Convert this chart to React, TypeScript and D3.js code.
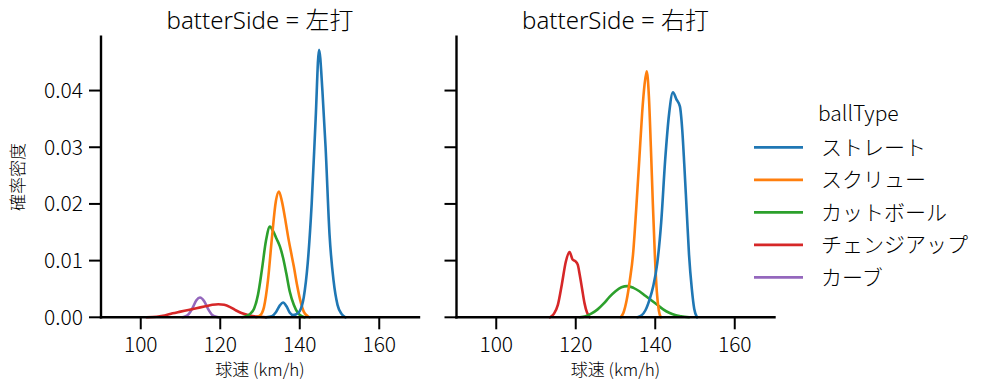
import React from "react";
import * as d3 from "d3";

const panelTitles = ["batterSide = 左打", "batterSide = 右打"];
const ballTypes = ["ストレート", "スクリュー", "カットボール", "チェンジアップ", "カーブ"];
const colors = ["#1f77b4", "#ff7f0e", "#2ca02c", "#d62728", "#9467bd"];
const xTicks = [100, 120, 140, 160];
const yTicks = [0, 0.01, 0.02, 0.03, 0.04];

type Pt = [number, number];

// 左打
const leftStraight: Pt[] = [[131.5,0],[133,0.0002],[134,0.0009],[135,0.0021],[135.8,0.0026],[136.7,0.0019],[137.5,0.0008],[138.3,0.0004],[139,0.0005],[140,0.0011],[141,0.0035],[142,0.0095],[143,0.020],[144,0.035],[144.85,0.0472],[145.7,0.040],[146.5,0.030],[147.5,0.0145],[148.5,0.0065],[149.5,0.0022],[150.5,0.0006],[151.5,0]];
const leftScrew: Pt[] = [[129,0],[130,0.0003],[131,0.0018],[132,0.0065],[133,0.014],[134,0.0205],[134.75,0.0222],[135.5,0.0205],[136.3,0.0175],[137,0.0145],[137.8,0.0115],[138.5,0.009],[139.3,0.0058],[140.2,0.0028],[141,0.001],[142,0.0002],[142.5,0]];
const leftCutter: Pt[] = [[125.5,0],[126.5,0.0002],[127.5,0.0006],[128.5,0.0015],[129.5,0.004],[130.5,0.0085],[131.5,0.0135],[132.5,0.016],[133.3,0.0152],[134.2,0.0138],[135,0.0125],[135.8,0.0105],[136.6,0.0078],[137.5,0.0045],[138.5,0.0022],[139.5,0.0008],[140.5,0.0002],[141.2,0]];
const leftChangeup: Pt[] = [[101.5,0],[104,0.0001],[106,0.0003],[108,0.0007],[110,0.001],[112,0.0013],[114,0.0016],[116,0.0019],[118,0.0022],[119.5,0.0023],[121,0.0022],[122.5,0.0018],[124,0.0012],[125.5,0.0007],[127,0.0004],[128.5,0.0002],[130,0.0001],[131.5,0]];
const leftCurve: Pt[] = [[110.5,0],[111,0.0001],[112,0.0005],[113,0.0016],[114,0.003],[114.9,0.0035],[116,0.0028],[117,0.0014],[118,0.0004],[119,0.0001],[119.5,0]];

// 右打
const rightStraight: Pt[] = [[135.5,0],[136.5,0.0003],[137.5,0.0012],[138.5,0.003],[139.5,0.0055],[140.5,0.0095],[141.5,0.0168],[142.5,0.0278],[143.5,0.036],[144.45,0.0397],[145.3,0.0385],[146.2,0.0372],[146.8,0.033],[147.3,0.027],[147.9,0.019],[148.5,0.011],[149.2,0.005],[149.8,0.0015],[150.5,0]];
const rightScrew: Pt[] = [[131.3,0],[132,0.0008],[132.8,0.003],[133.6,0.0065],[134.4,0.011],[135.2,0.019],[136,0.028],[136.7,0.036],[137.3,0.041],[137.85,0.0434],[138.4,0.039],[138.9,0.03],[139.4,0.02],[139.9,0.011],[140.4,0.0045],[140.9,0.0012],[141.4,0]];
const rightCutter: Pt[] = [[121,0],[122.5,0.0002],[124,0.0007],[125.5,0.0014],[127,0.0024],[128.5,0.0036],[130,0.0046],[131.5,0.0053],[133,0.0055],[134.5,0.0052],[136,0.0046],[137.5,0.0038],[139,0.003],[140.5,0.0022],[142,0.0014],[143.5,0.0008],[145,0.0004],[146.5,0.0002],[148.5,0]];
const rightChangeup: Pt[] = [[113.5,0],[114.5,0.0006],[115.5,0.0022],[116.5,0.0058],[117.5,0.0098],[118.45,0.0115],[119.2,0.0102],[119.9,0.0099],[120.5,0.0093],[121,0.0075],[121.6,0.005],[122.2,0.0025],[122.8,0.0009],[123.5,0]];

const panels: (Pt[] | null)[][] = [
  [leftStraight, leftScrew, leftCutter, leftChangeup, leftCurve],
  [rightStraight, rightScrew, rightCutter, rightChangeup, null],
];

const FONT = "'Noto Sans CJK JP', 'Noto Sans', sans-serif";
const TITLE_FONT = "'Noto Sans', 'Noto Sans CJK JP', sans-serif";

export default function App() {
  const W = 999, H = 391;
  const top = 36.7, bottom = 317.3;
  const panelX = [[101, 419], [456.5, 774.5]];
  const y = d3.scaleLinear().domain([0, 0.0495]).range([bottom, top]);
  const tickLen = 12;

  return (
    <svg width={W} height={H} style={{ position: "absolute", left: 0, top: 0, background: "#fff" }} fontFamily={FONT} fontWeight={300}>
      {panelX.map(([a, b], pi) => {
        const x = d3.scaleLinear().domain([90, 170]).range([a, b]);
        const line = d3.line<Pt>().x(d => x(d[0])).y(d => y(d[1])).curve(d3.curveMonotoneX);
        return (
          <g key={pi}>
            {panels[pi].map((s, i) => ({ s, i })).reverse().map(({ s, i }) =>
              s ? <path key={i} d={line(s) || ""} fill="none" stroke={colors[i]} strokeWidth={2.6} strokeLinejoin="round" strokeLinecap="round" /> : null
            )}
            <line x1={a} x2={b} y1={bottom} y2={bottom} stroke="#000" strokeWidth={2.4} strokeLinecap="square" />
            <line x1={a} x2={a} y1={top} y2={bottom} stroke="#000" strokeWidth={2.4} strokeLinecap="square" />
            {xTicks.map(t => (
              <g key={t}>
                <line x1={x(t)} x2={x(t)} y1={bottom} y2={bottom + tickLen} stroke="#000" strokeWidth={2} />
                <text x={x(t)} y={352} textAnchor="middle" fontSize={21} fill="#000">{t}</text>
              </g>
            ))}
            {yTicks.map(t => (
              <g key={t}>
                <line x1={a - tickLen} x2={a} y1={y(t)} y2={y(t)} stroke="#000" strokeWidth={2} />
                {pi === 0 && (
                  <text x={a - tickLen - 6} y={y(t)} dy="0.35em" textAnchor="end" fontSize={21} fill="#000">{t.toFixed(2)}</text>
                )}
              </g>
            ))}
            <text x={(a + b) / 2} y={28.5} textAnchor="middle" fontSize={24} fill="#000" fontFamily={TITLE_FONT} style={{ whiteSpace: "pre" }}>{panelTitles[pi]}</text>
            <text x={(a + b) / 2} y={376} textAnchor="middle" fontSize={17} fill="#000">球速 (km/h)</text>
          </g>
        );
      })}
      <text transform={`translate(24,${(top + bottom) / 2}) rotate(-90)`} textAnchor="middle" fontSize={17} fill="#000">確率密度</text>
      <text x={818} y={121} fontSize={21} fill="#000">ballType</text>
      {ballTypes.map((bt, i) => {
        const ly = 147.3 + i * 32.5;
        return (
          <g key={bt}>
            <line x1={754} x2={803} y1={ly} y2={ly} stroke={colors[i]} strokeWidth={2.8} />
            <text x={821} y={ly} dy="0.35em" fontSize={21} fill="#000">{bt}</text>
          </g>
        );
      })}
    </svg>
  );
}
